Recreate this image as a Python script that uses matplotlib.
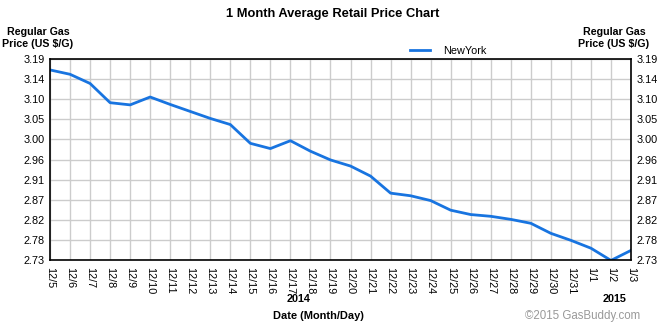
import matplotlib.pyplot as plt

plt.rcParams['font.family'] = ['Liberation Sans', 'DejaVu Sans']

dates = ['12/5', '12/6', '12/7', '12/8', '12/9', '12/10', '12/11', '12/12', '12/13', '12/14',
         '12/15', '12/16', '12/17', '12/18', '12/19', '12/20', '12/21', '12/22', '12/23', '12/24',
         '12/25', '12/26', '12/27', '12/28', '12/29', '12/30', '12/31', '1/1', '1/2', '1/3']
newyork = [3.165, 3.155, 3.134, 3.090, 3.085, 3.103, 3.086, 3.070, 3.054, 3.040,
           2.997, 2.985, 3.003, 2.979, 2.959, 2.945, 2.922, 2.883, 2.877, 2.866,
           2.844, 2.834, 2.830, 2.823, 2.814, 2.791, 2.775, 2.757, 2.729, 2.752]
ytick_labels = ['2.73', '2.78', '2.82', '2.87', '2.91', '2.96', '3.00', '3.05', '3.10', '3.14', '3.19']
ymin, ymax = 2.73, 3.19

fig = plt.figure(figsize=(6.7, 3.25), dpi=100)
ax = fig.add_axes([50/670, 1-260/325, 581/670, 201/325])

x = list(range(len(dates)))
ax.plot(x, newyork, color='#1874e0', lw=2, label='NewYork')

step = (ymax - ymin) / (len(ytick_labels) - 1)
yticks = [ymin + i*step for i in range(len(ytick_labels))]
ax.set_ylim(ymin, ymax)
ax.set_xlim(0, len(dates) - 1)
ax.set_yticks(yticks)
ax.set_yticklabels(ytick_labels, fontsize=7.8)
ax.set_xticks(x)
ax.set_xticklabels(dates, rotation=270, fontsize=7.8)
ax.tick_params(length=0, pad=5)
ax.tick_params(axis='y', labelright=True, pad=4)
ax.grid(True, color='#cccccc', lw=1)
ax.set_axisbelow(True)
for s in ax.spines.values():
    s.set_color('black')
    s.set_linewidth(1.2)

fig.text(333/670, 1-14/325, '1 Month Average Retail Price Chart', ha='center', va='center',
         fontsize=9.3, fontweight='bold')
fig.text(38/670, 1-38/325, 'Regular Gas\nPrice (US $/G)', ha='center', va='center',
         fontsize=7.7, fontweight='bold', linespacing=1.25)
fig.text(614/670, 1-38/325, 'Regular Gas\nPrice (US $/G)', ha='center', va='center',
         fontsize=7.7, fontweight='bold', linespacing=1.25)
fig.legend(loc='center left', bbox_to_anchor=(410/670, 1-51/325), frameon=False, fontsize=7.8,
           handlelength=1.85, handletextpad=1.2, borderpad=0, borderaxespad=0)
fig.text(299/670, 1-299/325, '2014', ha='center', va='center', fontsize=7.8, fontweight='bold')
fig.text(615/670, 1-299/325, '2015', ha='center', va='center', fontsize=7.8, fontweight='bold')
fig.text(318/670, 1-316/325, 'Date (Month/Day)', ha='center', va='center', fontsize=7.9,
         fontweight='bold')
fig.text(583/670, 1-316/325, '\u00a92015 GasBuddy.com', ha='center', va='center', fontsize=8.3,
         color='#999999')

fig.savefig('out.png', dpi=100)
